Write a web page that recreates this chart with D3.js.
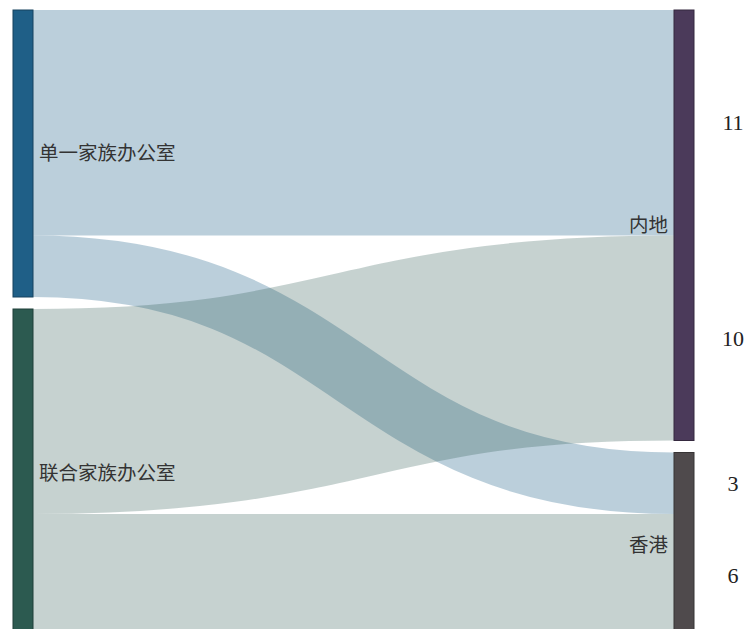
<!DOCTYPE html>
<html>
<head>
<meta charset="utf-8">
<script src="https://cdn.jsdelivr.net/npm/d3@7"></script>
<style>
  body { margin: 0; background: #fff; }
  svg { display: block; }
</style>
</head>
<body>
<div id="viz"></div>
<script>
// data
const sourceNames = ['单一家族办公室', '联合家族办公室'];
const targetNames = ['内地', '香港'];
const nodeColors = ['#1f5f87', '#2c5a50', '#4b3a5a', '#4f4a4c'];
const linkSource = [0, 0, 1, 1];
const linkTarget = [0, 1, 0, 1];
const linkValues = [11, 3, 10, 6];

let dimensions = {
  width: 747,
  height: 629,
  x0: 13, x1: 694,
  y0: 10, y1: 637,
  nodeWidth: 20,
  nodePadding: 12,
}

function layout() {
  const nodes = [];
  sourceNames.forEach((name, i) => nodes.push({name, col: 0, idx: i, value: 0}));
  targetNames.forEach((name, i) => nodes.push({name, col: 1, idx: i, value: 0}));
  const srcNodes = nodes.filter(n => n.col === 0);
  const tgtNodes = nodes.filter(n => n.col === 1);

  const links = linkValues.map((v, i) => ({
    source: srcNodes[linkSource[i]],
    target: tgtNodes[linkTarget[i]],
    value: v,
  }));
  links.forEach(l => { l.source.value += l.value; l.target.value += l.value; });

  const colTotal = d3.max([srcNodes, tgtNodes], c => d3.sum(c, n => n.value));
  const maxCount = d3.max([srcNodes, tgtNodes], c => c.length);
  const y = d3.scaleLinear()
    .domain([0, colTotal])
    .range([0, dimensions.y1 - dimensions.y0 - (maxCount - 1) * dimensions.nodePadding]);
  const x = d3.scaleLinear().domain([0, 1]).range([dimensions.x0, dimensions.x1 - dimensions.nodeWidth]);

  [srcNodes, tgtNodes].forEach(col => {
    let cur = dimensions.y0;
    col.forEach(n => {
      n.x0 = x(n.col);
      n.x1 = n.x0 + dimensions.nodeWidth;
      n.y0 = cur;
      n.y1 = cur + y(n.value);
      cur = n.y1 + dimensions.nodePadding;
    });
  });

  // stack links at each node
  srcNodes.forEach(n => {
    let cur = n.y0;
    links.filter(l => l.source === n)
      .sort((a, b) => a.target.idx - b.target.idx)
      .forEach(l => { l.width = y(l.value); l.sy = cur + l.width / 2; cur += l.width; });
  });
  tgtNodes.forEach(n => {
    let cur = n.y0;
    links.filter(l => l.target === n)
      .sort((a, b) => a.source.idx - b.source.idx)
      .forEach(l => { l.ty = cur + y(l.value) / 2; cur += y(l.value); });
  });
  nodes.forEach((n, i) => n.color = nodeColors[i]);
  return {nodes, links};
}

const {nodes, links} = layout();

const svg = d3.select('#viz').append('svg')
  .attr('width', dimensions.width)
  .attr('height', dimensions.height);

const linkGen = d3.linkHorizontal()
  .source(d => [d.source.x1, d.sy])
  .target(d => [d.target.x0, d.ty]);

svg.append('g')
  .attr('fill', 'none')
  .selectAll('path')
  .data(links)
  .join('path')
  .attr('d', linkGen)
  .attr('stroke', d => d.source.color)
  .attr('stroke-opacity', d => d.source.idx === 0 ? 0.3 : 0.27)
  .attr('stroke-width', d => d.width);

svg.append('g')
  .selectAll('rect')
  .data(nodes)
  .join('rect')
  .attr('x', d => d.x0)
  .attr('y', d => d.y0)
  .attr('width', d => d.x1 - d.x0)
  .attr('height', d => d.y1 - d.y0)
  .attr('fill', d => d.color)
  .attr('stroke', d => d3.color(d.color).darker(1))
  .attr('stroke-width', 1);

svg.append('g')
  .selectAll('text')
  .data(nodes)
  .join('text')
  .attr('x', d => d.col === 0 ? d.x1 + 6 : d.x0 - 6)
  .attr('y', d => (d.y0 + d.y1) / 2)
  .attr('dy', '0.35em')
  .attr('text-anchor', d => d.col === 0 ? 'start' : 'end')
  .style('font-family', '"Noto Sans CJK SC", sans-serif')
  .style('font-size', '19.5px')
  .style('fill', '#333')
  .text(d => d.name);

// values at the right
svg.append('g')
  .selectAll('text')
  .data(links)
  .join('text')
  .attr('x', 733)
  .attr('y', d => d.ty)
  .attr('dy', '0.35em')
  .attr('text-anchor', 'middle')
  .style('font-family', '"Liberation Serif", serif')
  .style('font-size', '22px')
  .style('fill', '#222')
  .text(d => d.value);
</script>
</body>
</html>
